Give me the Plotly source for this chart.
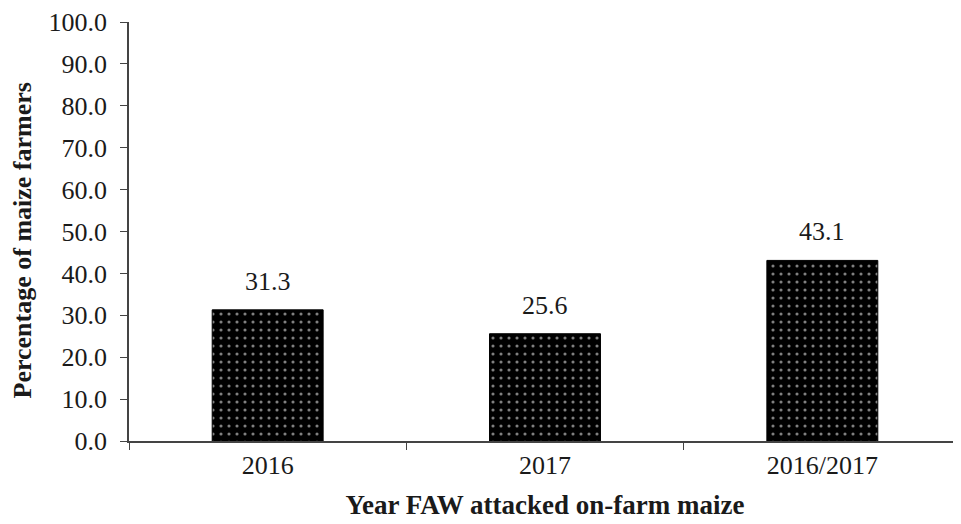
import plotly.graph_objects as go

categories = ["2016", "2017", "2016/2017"]
values = [31.3, 25.6, 43.1]
labels = ["31.3", "25.6", "43.1"]
y_ticks = [0, 10, 20, 30, 40, 50, 60, 70, 80, 90, 100]

font_family = "Liberation Serif"
txt = "#1a1a1a"
fs = 26

fig = go.Figure()
fig.add_trace(go.Bar(
    x=categories,
    y=values,
    marker=dict(
        color="black",
        line=dict(color="black", width=1),
        pattern=dict(shape=".", fgcolor="white", bgcolor="black", size=8, solidity=0.12),
    ),
    width=0.4,
    hoverinfo="skip",
))

for i, (v, t) in enumerate(zip(values, labels)):
    fig.add_annotation(x=i, y=v, text=t, showarrow=False, yanchor="bottom", yshift=12,
                       font=dict(family=font_family, size=fs, color=txt))

# y-axis title as a rotated annotation
fig.add_annotation(xref="paper", yref="paper", x=0, y=0.5, xshift=-107, yshift=-9,
                   xanchor="center", yanchor="middle", textangle=-90, showarrow=False,
                   text="<b>Percentage of maize farmers</b>",
                   font=dict(family=font_family, size=fs, color=txt))

# page body has an 8px default margin, so the figure is shrunk by 8px
fig.update_layout(
    width=953, height=516,
    autosize=False,
    margin=dict(l=121, r=0, t=14, b=83, pad=0),
    paper_bgcolor="white", plot_bgcolor="white",
    showlegend=False,
    font=dict(family=font_family, size=fs, color=txt),
)
fig.update_xaxes(
    type="category",
    categoryorder="array", categoryarray=categories,
    range=[-0.5, 2.5],
    automargin=False,
    showline=True, linecolor="#444444", linewidth=1.5,
    ticks="outside", tickson="boundaries", ticklen=7, tickcolor="#444444",
    showgrid=False, tickangle=0,
    tickfont=dict(family=font_family, size=fs, color=txt),
    title=dict(text="<b>Year FAW attacked on-farm maize</b>", standoff=16,
               font=dict(family=font_family, size=27, color=txt)),
)
fig.update_yaxes(
    range=[0, 100],
    tickvals=y_ticks,
    ticktext=[f"{v:.1f}" for v in y_ticks],
    automargin=False,
    ticklabeloverflow="allow",
    showline=True, linecolor="#444444", linewidth=1.5,
    ticks="outside", ticklen=7, tickcolor="#444444",
    showgrid=False, zeroline=False,
    ticklabelstandoff=8,
    tickfont=dict(family=font_family, size=fs, color=txt),
)

fig.write_html("out.html")
